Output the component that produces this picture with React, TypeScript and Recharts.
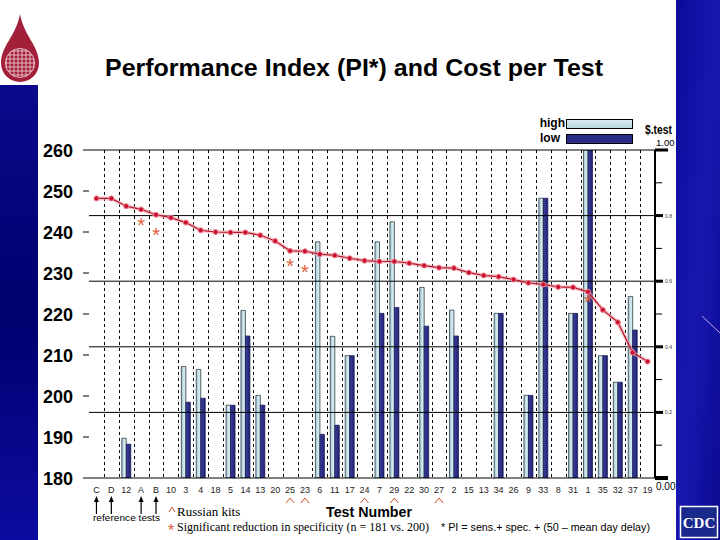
import React from "react";
import {
  ComposedChart,
  Bar,
  Line,
  XAxis,
  YAxis,
  CartesianGrid,
  ReferenceLine,
} from "recharts";

// test numbers in ranking order (x axis)
const testNames = [
  "C", "D", "12", "A", "B", "10", "3", "4", "18", "5", "14", "13", "20",
  "25", "23", "6", "11", "17", "24", "7", "29", "22", "30", "27", "2", "15",
  "13", "34", "26", "9", "33", "8", "31", "1", "35", "32", "37", "19",
];

// performance index (left axis)
const piValues = [
  248.2, 248.2, 246.3, 245.5, 244.2, 243.5, 242.3, 240.4, 240.0, 239.9, 239.9,
  239.2, 237.8, 235.4, 235.3, 234.6, 234.3, 233.6, 233.0, 232.8, 232.8, 232.4,
  231.8, 231.3, 231.2, 230.1, 229.4, 229.1, 228.4, 227.6, 227.2, 226.6, 226.5,
  225.4, 221.0, 218.0, 210.6, 208.4,
];

// cost per test, $ (right axis)
const costHigh = [
  null, null, 0.121, null, null, null, 0.34, 0.331, null, 0.222, 0.511, 0.252,
  null, null, null, 0.72, 0.432, 0.373, null, 0.72, 0.781, null, 0.581, null,
  0.512, null, null, 0.502, null, 0.252, 0.853, null, 0.502, 1.0, 0.373, 0.292,
  0.553, null,
];
const costLow = [
  null, null, 0.103, null, null, null, 0.231, 0.243, null, 0.222, 0.433, 0.222,
  null, null, null, 0.133, 0.161, 0.373, null, 0.502, 0.52, null, 0.463, null,
  0.433, null, null, 0.502, null, 0.252, 0.853, null, 0.502, 1.0, 0.373, 0.292,
  0.451, null,
];

// PI with reduced specificity (asterisks)
const starValues = [
  null, null, null, 242.8, 240.3, null, null, null, null, null, null, null,
  null, 232.8, 231.3, null, null, null, null, null, null, null, null, null,
  null, null, null, null, null, null, null, null, null, 224.0, null, null,
  null, null,
];

const russianKits = ["25", "23", "24", "29", "27"];
const referenceTests = ["C", "D", "A", "B"];

const leftTicks = [180, 190, 200, 210, 220, 230, 240, 250, 260];
const rightTicks = [
  0, 0.05, 0.1, 0.15, 0.2, 0.25, 0.3, 0.35, 0.4, 0.45, 0.5, 0.55, 0.6, 0.65,
  0.7, 0.75, 0.8, 0.85, 0.9, 0.95, 1,
];
const rightGrid = [0.2, 0.4, 0.6, 0.8, 1];

const data = testNames.map((name, i) => ({
  name,
  pi: piValues[i],
  high: costHigh[i],
  low: costLow[i],
  star: starValues[i],
}));

const SANS = "'Liberation Sans', Arial, sans-serif";
const SERIF = "'Liberation Serif', 'Times New Roman', serif";

function LeftTick(props: any) {
  const { x, y, payload } = props;
  return (
    <g>
      <line x1={x - 6} x2={x} y1={y} y2={y} stroke="#000" />
      <text
        x={x - 16}
        y={y + 6.5}
        textAnchor="end"
        fontFamily={SANS}
        fontWeight="bold"
        fontSize={18}
        fill="#000"
      >
        {payload.value}
      </text>
    </g>
  );
}

function RightTick(props: any) {
  const { x, y, payload } = props;
  const v = payload.value;
  const pct = Math.round(v * 100);
  if (pct === 100) {
    return (
      <g>
        <rect x={x} y={y - 1.5} width={13} height={3} fill="#000" />
        <text x={x + 1} y={y - 4} fontFamily={SANS} fontSize={9.5} fill="#000">
          1.00
        </text>
      </g>
    );
  }
  if (pct === 0) {
    return (
      <g>
        <rect x={x} y={y - 2} width={13} height={4} fill="#000" />
        <text x={x + 1} y={y + 12} fontFamily={SANS} fontSize={10} fill="#000">
          0.00
        </text>
      </g>
    );
  }
  if (pct % 20 === 0) {
    return (
      <g>
        <rect x={x} y={y - 1.5} width={8} height={3} fill="#000" />
        <text x={x + 10} y={y + 2} fontFamily={SANS} fontSize={5} fill="#333">
          {(v).toFixed(1)}
        </text>
      </g>
    );
  }
  return <line x1={x} x2={x + 7} y1={y} y2={y} stroke="#000" />;
}

function XTick(props: any) {
  const { x, y, payload } = props;
  const name = payload.value;
  return (
    <g>
      <text
        x={x}
        y={y + 15}
        textAnchor="middle"
        fontFamily={SANS}
        fontSize={9}
        fill="#222"
      >
        {name}
      </text>
      {russianKits.includes(name) && (
        <polyline
          points={`${x - 4},${y + 25} ${x},${y + 20} ${x + 4},${y + 25}`}
          fill="none"
          stroke="#d0502a"
          strokeWidth={1}
        />
      )}
      {referenceTests.includes(name) && (
        <g>
          <line x1={x} x2={x} y1={y + 22} y2={y + 36} stroke="#000" strokeWidth={1.2} />
          <polygon
            points={`${x - 2.5},${y + 24} ${x + 2.5},${y + 24} ${x},${y + 18}`}
            fill="#000"
          />
        </g>
      )}
    </g>
  );
}

function StarDot(props: any) {
  const { cx, cy, payload, index } = props;
  if (payload.star == null || cy == null) return <g key={"s" + index} />;
  return (
    <text
      key={"s" + index}
      x={cx}
      y={cy + 11}
      textAnchor="middle"
      fontFamily={SANS}
      fontSize={20}
      fill="#e0603a"
    >
      *
    </text>
  );
}

function Background() {
  return (
    <svg width={720} height={540} style={{ position: "absolute", left: 0, top: 0 }}>
      <defs>
        <linearGradient id="slideBlue" x1="0" y1="0" x2="0" y2="1">
          <stop offset="0%" stopColor="#0a0a8c" />
          <stop offset="50%" stopColor="#00006e" />
          <stop offset="100%" stopColor="#0c0ca0" />
        </linearGradient>
        <linearGradient id="slideBlueR" x1="0" y1="0" x2="1" y2="1">
          <stop offset="0%" stopColor="#0a0a9a" />
          <stop offset="50%" stopColor="#1818b0" />
          <stop offset="100%" stopColor="#0a0a90" />
        </linearGradient>
        <clipPath id="globe">
          <circle cx={20} cy={63} r={15} />
        </clipPath>
      </defs>
      <rect x={0} y={0} width={720} height={540} fill="#fff" />
      <rect x={0} y={85} width={38} height={455} fill="url(#slideBlue)" />
      <rect x={676} y={0} width={44} height={540} fill="url(#slideBlueR)" />
      <line x1={702} y1={316} x2={720} y2={333} stroke="#c8a0e8" strokeWidth={1} />
      {/* logo */}
      <path
        d="M20 14 C 24 36, 39 46, 39 63 A 19 19 0 1 1 1 63 C 1 46, 16 36, 20 14 Z"
        fill="#a3203a"
      />
      <g clipPath="url(#globe)" stroke="#f3d6dc" strokeWidth={0.8} fill="none">
        {[51, 55, 59, 63, 67, 71, 75].map((yy) => (
          <line key={yy} x1={0} x2={40} y1={yy} y2={yy} />
        ))}
        {[6, 10, 14, 18, 22, 26, 30, 34].map((xx) => (
          <line key={xx} x1={xx} x2={xx} y1={45} y2={80} />
        ))}
        <circle cx={20} cy={63} r={14.5} />
      </g>
    </svg>
  );
}

function Overlay() {
  return (
    <svg
      width={720}
      height={540}
      style={{ position: "absolute", left: 0, top: 0, pointerEvents: "none" }}
    >
      <defs>
        <linearGradient id="legHigh" x1="0" y1="0" x2="0" y2="1">
          <stop offset="0%" stopColor="#dcedf0" />
          <stop offset="100%" stopColor="#b8d6de" />
        </linearGradient>
      </defs>
      <text
        x={105}
        y={76}
        fontFamily={SANS}
        fontWeight="bold"
        fontSize={24}
        textLength={498}
        lengthAdjust="spacingAndGlyphs"
        fill="#000"
      >
        Performance Index (PI*) and Cost per Test
      </text>

      <text x={565} y={127} textAnchor="end" fontFamily={SANS} fontWeight="bold" fontSize={12}>
        high
      </text>
      <rect x={566.5} y={119.5} width={66} height={9} fill="url(#legHigh)" stroke="#000" />
      <text x={560} y={142} textAnchor="end" fontFamily={SANS} fontWeight="bold" fontSize={12}>
        low
      </text>
      <rect x={566.5} y={134.5} width={66} height={9} fill="#2b2d86" stroke="#000" />
      <text
        x={645}
        y={134}
        fontFamily={SANS}
        fontWeight="bold"
        fontSize={12}
        textLength={27}
        lengthAdjust="spacingAndGlyphs"
      >
        $.test
      </text>

      <text
        x={369}
        y={517}
        textAnchor="middle"
        fontFamily={SANS}
        fontWeight="bold"
        fontSize={15}
        textLength={86}
        lengthAdjust="spacingAndGlyphs"
      >
        Test Number
      </text>
      <text
        x={93}
        y={521}
        fontFamily={SANS}
        fontSize={9}
        textLength={67}
        lengthAdjust="spacingAndGlyphs"
      >
        reference tests
      </text>
      <polyline points="169,512 172,507 175,512" fill="none" stroke="#d0502a" />
      <text x={177} y={516} fontFamily={SERIF} fontSize={13}>
        Russian kits
      </text>
      <text x={168} y={536} fontFamily={SANS} fontSize={16} fill="#e0603a">
        *
      </text>
      <text
        x={177}
        y={531}
        fontFamily={SERIF}
        fontSize={12}
        textLength={252}
        lengthAdjust="spacingAndGlyphs"
      >
        Significant reduction in specificity (n = 181 vs. 200)
      </text>
      <text
        x={441}
        y={531}
        fontFamily={SANS}
        fontSize={10}
        textLength={209}
        lengthAdjust="spacingAndGlyphs"
      >
        * PI = sens.+ spec. + (50 – mean day delay)
      </text>

      <rect x={680.5} y={506.5} width={37} height={31} fill="#1a2a8c" stroke="#fff" strokeWidth={1.5} />
      <text
        x={699}
        y={528}
        textAnchor="middle"
        fontFamily={SERIF}
        fontWeight="bold"
        fontSize={15}
        fill="#fff"
      >
        CDC
      </text>
    </svg>
  );
}

export default function App() {
  const n = testNames.length;
  return (
    <div style={{ position: "absolute", left: 0, top: 0, width: 720, height: 540 }}>
      <Background />
      <div style={{ position: "absolute", left: 0, top: 0 }}>
        <ComposedChart
          width={720}
          height={540}
          data={data}
          margin={{ top: 150, right: 25, bottom: 32, left: 44 }}
          barGap={0}
        >
          <defs>
            <linearGradient id="barHigh" x1="0" y1="0" x2="1" y2="0">
              <stop offset="0%" stopColor="#9cc2d2" />
              <stop offset="60%" stopColor="#d8ebee" />
              <stop offset="100%" stopColor="#c6e0e4" />
            </linearGradient>
            <linearGradient id="barLow" x1="0" y1="0" x2="1" y2="0">
              <stop offset="0%" stopColor="#3c40a0" />
              <stop offset="100%" stopColor="#1f2270" />
            </linearGradient>
          </defs>
          <CartesianGrid
            yAxisId="left"
            horizontal={false}
            stroke="#000"
            strokeDasharray="3 3"
            verticalCoordinatesGenerator={({ offset }: any) =>
              Array.from({ length: n - 1 }, (_, i) =>
                Math.round(offset.left + ((i + 1) * offset.width) / n) + 0.5
              )
            }
          />
          <XAxis
            dataKey="name"
            interval={0}
            tickLine={false}
            tickSize={0}
            tickMargin={0}
            height={30}
            axisLine={{ stroke: "#000" }}
            tick={<XTick />}
          />
          <YAxis
            yAxisId="left"
            domain={[180, 260]}
            ticks={leftTicks}
            width={45}
            axisLine={false}
            tickLine={false}
            tickSize={0}
            tickMargin={0}
            tick={<LeftTick />}
          />
          <YAxis
            yAxisId="right"
            orientation="right"
            domain={[0, 1]}
            ticks={rightTicks}
            allowDataOverflow
            width={40}
            axisLine={{ stroke: "#000", strokeWidth: 2 }}
            tickLine={false}
            tickSize={0}
            tickMargin={0}
            tick={<RightTick />}
          />
          {rightGrid.map((v) => (
            <ReferenceLine key={v} yAxisId="right" y={v} stroke="#000" strokeWidth={1} />
          ))}
          <Bar
            yAxisId="right"
            dataKey="high"
            barSize={4.5}
            fill="url(#barHigh)"
            stroke="#1a2a30"
            strokeWidth={0.7}
            isAnimationActive={false}
          />
          <Bar
            yAxisId="right"
            dataKey="low"
            barSize={4.5}
            fill="url(#barLow)"
            stroke="#12144a"
            strokeWidth={0.7}
            isAnimationActive={false}
          />
          <Line
            yAxisId="left"
            dataKey="pi"
            stroke="#f4a8b0"
            strokeWidth={4}
            strokeOpacity={0.6}
            dot={false}
            activeDot={false}
            isAnimationActive={false}
          />
          <Line
            yAxisId="left"
            dataKey="pi"
            stroke="#b3162c"
            strokeWidth={1.2}
            dot={{ r: 2.5, fill: "#c8102e", stroke: "#f08090", strokeWidth: 1 }}
            activeDot={false}
            isAnimationActive={false}
          />
          <Line
            yAxisId="left"
            dataKey="star"
            stroke="none"
            dot={<StarDot />}
            activeDot={false}
            isAnimationActive={false}
          />
        </ComposedChart>
      </div>
      <Overlay />
    </div>
  );
}
